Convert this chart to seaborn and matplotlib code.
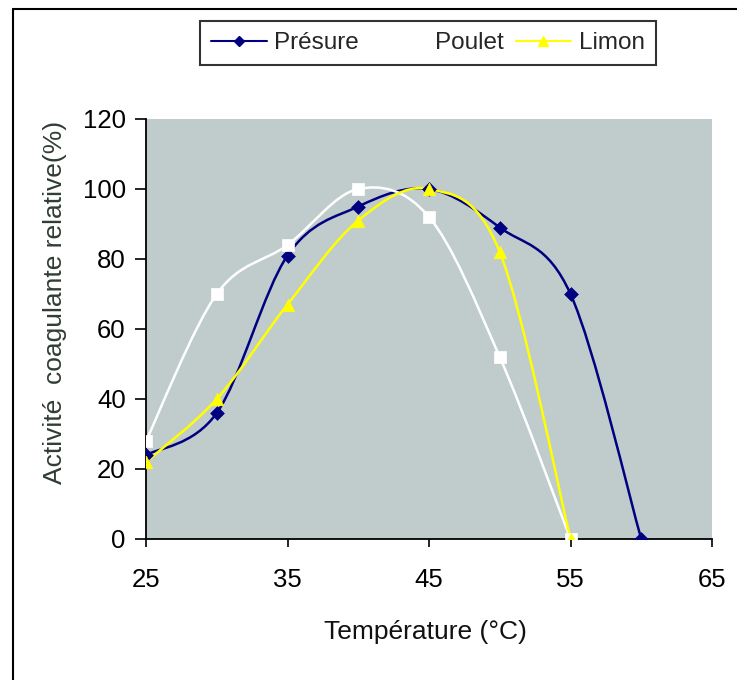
import numpy as np
import pandas as pd
import matplotlib
matplotlib.use("Agg")
import matplotlib.pyplot as plt
import seaborn as sns
from matplotlib.path import Path
from matplotlib.patches import PathPatch
from matplotlib.lines import Line2D

# ---- data ----
temp_presure = [25, 30, 35, 40, 45, 50, 55, 60]
presure = [24, 36, 81, 95, 100, 89, 70, 0]
temp_poulet = [25, 30, 35, 40, 45, 50, 55]
poulet = [28, 70, 84, 100, 92, 52, 0]
temp_limon = [25, 30, 35, 40, 45, 50, 55]
limon = [22, 40, 67, 91, 100, 82, 0]

series_names = ["Présure", "Poulet", "Limon"]
colors = {"Présure": "#000080", "Poulet": "#ffffff", "Limon": "#ffff00"}
markers = {"Présure": "D", "Poulet": "s", "Limon": "^"}
marker_sizes = {"Présure": 7, "Poulet": 8, "Limon": 9}

df = pd.concat([
    pd.DataFrame({"T": temp_presure, "v": presure, "s": "Présure"}),
    pd.DataFrame({"T": temp_poulet, "v": poulet, "s": "Poulet"}),
    pd.DataFrame({"T": temp_limon, "v": limon, "s": "Limon"}),
])

sns.set_style("white")
plt.rcParams["font.family"] = ["Liberation Sans", "DejaVu Sans"]

fig = plt.figure(figsize=(7.37, 6.80), dpi=100)
ax = fig.add_axes([146 / 737, 1 - 539 / 680, (712 - 146) / 737, (539 - 119) / 680])
ax.set_facecolor("#c0cccb")


def smooth_path(xs, ys):
    # Excel-like smoothed line: cubic Bezier segments (Catmull-Rom, tension 1/6)
    p = np.column_stack([xs, ys]).astype(float)
    n = len(p)
    verts = [p[0]]
    codes = [Path.MOVETO]
    for i in range(n - 1):
        p0 = p[i - 1] if i > 0 else p[i]
        p1 = p[i]
        p2 = p[i + 1]
        p3 = p[i + 2] if i + 2 < n else p[i + 1]
        c1 = p1 + (p2 - p0) / 6.0
        c2 = p2 - (p3 - p1) / 6.0
        verts += [c1, c2, p2]
        codes += [Path.CURVE4] * 3
    return Path(verts, codes)


for name in series_names:
    d = df[df["s"] == name]
    patch = PathPatch(smooth_path(d["T"].values, d["v"].values), facecolor="none",
                      edgecolor=colors[name], lw=1.8, zorder=3)
    ax.add_patch(patch)
    sns.scatterplot(data=d, x="T", y="v", ax=ax, marker=markers[name],
                    s=marker_sizes[name] ** 2, color=colors[name],
                    edgecolor=colors[name], linewidth=0.5, zorder=4, legend=False)

ax.set_xlim(25, 65)
ax.set_ylim(0, 120)
ax.set_xticks([25, 35, 45, 55, 65])
ax.set_yticks([0, 20, 40, 60, 80, 100, 120])
ax.tick_params(axis="x", direction="out", length=5.8, width=1.2, pad=15, labelsize=18.5, colors="black")
ax.tick_params(axis="y", direction="out", length=8, width=1.2, pad=6.5, labelsize=18.5, colors="black")
ax.tick_params(bottom=True, left=True)

for side in ["top", "right"]:
    ax.spines[side].set_visible(False)
for side in ["left", "bottom"]:
    ax.spines[side].set_visible(True)
    ax.spines[side].set_color("black")
    ax.spines[side].set_linewidth(1.3)

ax.set_xlabel("Température (°C)", fontsize=19, color="#111111")
ax.set_ylabel("Activité  coagulante relative(%)", fontsize=19, color="#2f3d34")
ax.xaxis.set_label_coords((425 - 146) / (712 - 146), -(632 - 539) / (539 - 119))
ax.xaxis.label.set_va("center")
ax.yaxis.set_label_coords(-(146 - 55) / (712 - 146), (539 - 302) / (539 - 119))
ax.yaxis.label.set_va("center")

handles = [Line2D([], [], color=colors[n], marker=markers[n], markersize=marker_sizes[n] * 0.8,
                  lw=1.5) for n in series_names]
leg = fig.legend(handles, series_names, loc="center", bbox_to_anchor=(428 / 737, 1 - 43 / 680),
                 ncol=3, frameon=True, fancybox=False, fontsize=17.5, handlelength=2.3,
                 handletextpad=0.3, columnspacing=0.5, borderpad=0.45, borderaxespad=0)
leg.get_frame().set_edgecolor("black")
leg.get_frame().set_linewidth(1.5)

# outer chart border (left and top edges visible in the crop)
fig.add_artist(Line2D([13 / 737, 13 / 737], [0, 1 - 9 / 680], transform=fig.transFigure,
                      color="black", lw=1.5))
fig.add_artist(Line2D([13 / 737, 1], [1 - 9 / 680, 1 - 9 / 680], transform=fig.transFigure,
                      color="black", lw=1.5))

fig.savefig("out.png", dpi=100)
